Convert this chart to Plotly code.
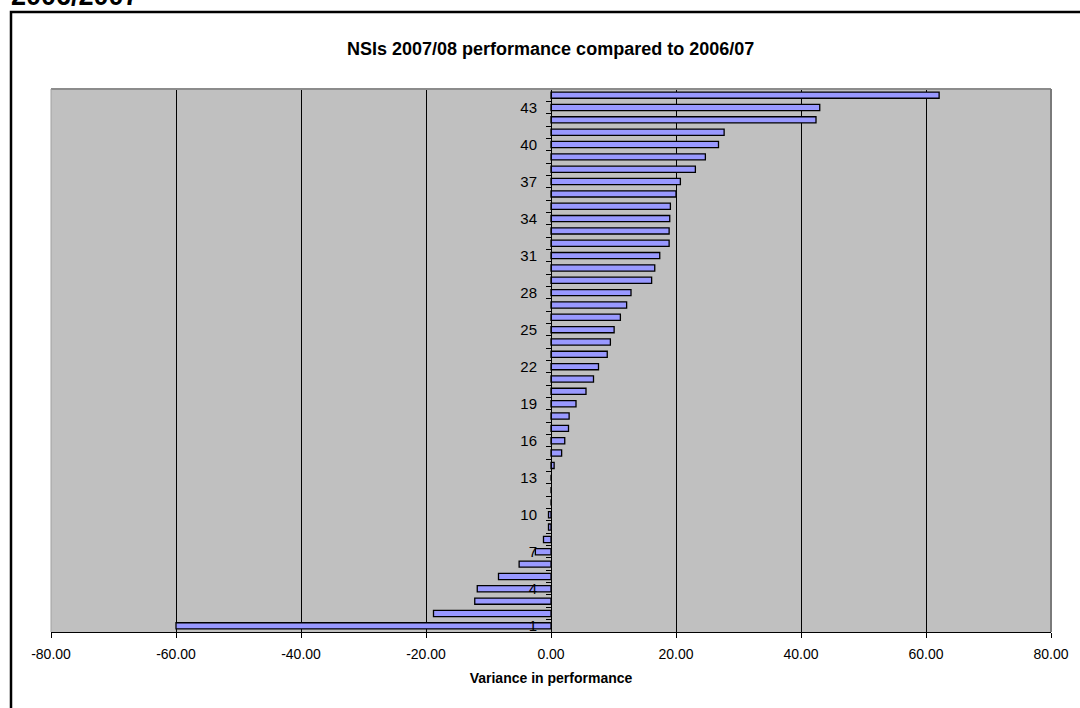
import plotly.graph_objects as go

# NSI ranking positions and their change in performance between years
nsi_rank = list(range(1, 45))
variance = [
    -60.0, -18.8, -12.2, -11.8, -8.4, -5.1, -2.5, -1.2, -0.4, -0.4,
    0.0, 0.0, 0.0, 0.5, 1.7, 2.2, 2.8, 2.9, 4.0, 5.6,
    6.8, 7.6, 9.0, 9.5, 10.1, 11.1, 12.1, 12.8, 16.1, 16.6,
    17.4, 18.9, 18.9, 19.0, 19.1, 20.0, 20.7, 23.1, 24.7, 26.8,
    27.7, 42.4, 43.0, 62.1,
]
x_ticks = [-80, -60, -40, -20, 0, 20, 40, 60, 80]
x_tick_text = [f"{v:.2f}" for v in x_ticks]
y_labels = list(range(1, 45, 3))
y_boundaries = [k + 0.5 for k in range(0, 45)]

FONT = "Arial, Liberation Sans, sans-serif"
W, H = 1080, 708
L, R, T, B = 51, 29, 89, 76
plot_h = H - T - B
plot_w = W - L - R


def px_to_paper_y(py):
    return 1 + (T - py) / plot_h


def px_to_paper_x(px):
    return (px - L) / plot_w


fig = go.Figure(
    go.Bar(
        y=nsi_rank,
        x=variance,
        orientation="h",
        width=0.5,
        marker=dict(color="#9999FF", line=dict(color="black", width=1.3)),
        hoverinfo="x+y",
    )
)

fig.update_layout(
    width=W,
    height=H,
    margin=dict(l=L, r=R, t=T, b=B, pad=0),
    paper_bgcolor="white",
    plot_bgcolor="#C0C0C0",
    showlegend=False,
    font=dict(family=FONT, color="black"),
    xaxis=dict(
        range=[-80, 80],
        tickvals=x_ticks,
        ticktext=x_tick_text,
        ticks="outside",
        ticklen=5,
        tickcolor="black",
        ticklabelstandoff=4,
        tickfont=dict(size=14, family=FONT),
        showline=True,
        linecolor="black",
        linewidth=1,
        showgrid=True,
        gridcolor="black",
        gridwidth=1,
        zeroline=False,
        title=dict(text="<b>Variance in performance</b>", font=dict(size=14, family=FONT), standoff=12),
    ),
    yaxis=dict(
        range=[0.5, 44.5],
        anchor="free",
        position=0.5,
        tickvals=y_labels,
        ticks="",
        ticklabelstandoff=11,
        tickfont=dict(size=15, family=FONT),
        showline=True,
        linecolor="black",
        linewidth=1,
        showgrid=False,
        zeroline=False,
        minor=dict(tickvals=y_boundaries, ticks="outside", ticklen=5, tickcolor="black", showgrid=False),
    ),
    shapes=[
        # plot area frame
        dict(type="line", xref="x domain", yref="y domain", x0=0, x1=1, y0=1, y1=1,
             line=dict(color="#8C8C8C", width=2), layer="above"),
        dict(type="line", xref="x domain", yref="y domain", x0=0, x1=0, y0=0, y1=1,
             line=dict(color="#A0A0A0", width=1), layer="above"),
        dict(type="line", xref="x domain", yref="y domain", x0=1, x1=1, y0=0, y1=1,
             line=dict(color="#7A7A7A", width=2), layer="above"),
        # chart frame
        dict(type="rect", xref="paper", yref="paper",
             x0=px_to_paper_x(11), x1=px_to_paper_x(1200),
             y0=px_to_paper_y(900), y1=px_to_paper_y(12),
             line=dict(color="black", width=2.5), fillcolor="rgba(0,0,0,0)"),
    ],
    annotations=[
        dict(text="<b>NSIs 2007/08 performance compared to 2006/07</b>",
             xref="paper", yref="paper", x=px_to_paper_x(550), y=px_to_paper_y(49),
             xanchor="center", yanchor="middle", showarrow=False,
             font=dict(size=18, family=FONT)),
        dict(text="<b>2006/2007</b>",
             xref="paper", yref="paper", x=px_to_paper_x(9), y=px_to_paper_y(-4),
             xanchor="left", yanchor="middle", showarrow=False,
             font=dict(size=27, family=FONT)),
    ],
)

fig.write_html("out.html")
